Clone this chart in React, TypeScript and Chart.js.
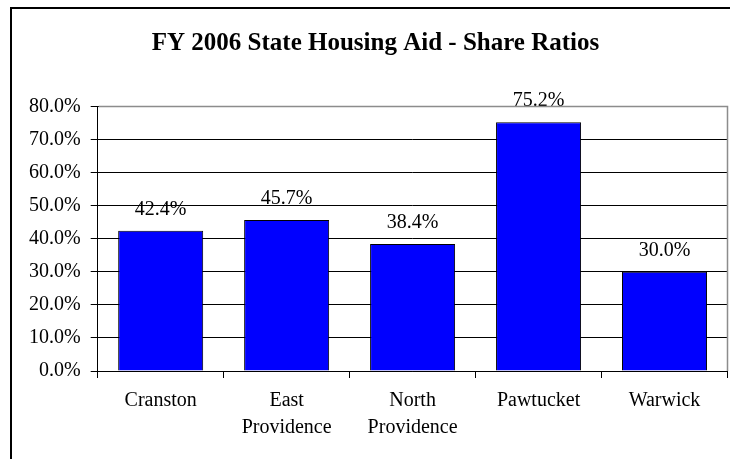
import React, { useEffect, useRef } from "react";
import { Chart, registerables } from "chart.js";

Chart.register(...registerables);

const categories: (string | string[])[] = [
  "Cranston",
  ["East", "Providence"],
  ["North", "Providence"],
  "Pawtucket",
  "Warwick",
];
const shareRatios: number[] = [42.4, 45.7, 38.4, 75.2, 30.0];
const yTicks: number[] = [0, 10, 20, 30, 40, 50, 60, 70, 80];
const titleText = "FY 2006 State Housing Aid - Share Ratios";

const FONT = '"Liberation Serif", "Times New Roman", Times, serif';

const decorPlugin = {
  id: "decor",
  beforeDraw(chart: any) {
    const ctx = chart.ctx;
    ctx.save();
    ctx.fillStyle = "#ffffff";
    ctx.fillRect(0, 0, chart.width, chart.height);
    ctx.strokeStyle = "#000000";
    ctx.lineWidth = 2;
    ctx.strokeRect(11, 8, 800, 800);
    ctx.fillStyle = "#000000";
    ctx.font = `bold 25px ${FONT}`;
    ctx.textAlign = "center";
    ctx.textBaseline = "alphabetic";
    ctx.fillText(titleText, 375.5, 50);
    ctx.restore();
  },
  afterDraw(chart: any) {
    const ctx = chart.ctx;
    const a = chart.chartArea;
    ctx.save();
    ctx.strokeStyle = "#8c8c8c";
    ctx.lineWidth = 1.5;
    ctx.beginPath();
    ctx.moveTo(a.left + 1, a.top);
    ctx.lineTo(a.right, a.top);
    ctx.lineTo(a.right, a.bottom);
    ctx.stroke();
    ctx.restore();
  },
  afterDatasetsDraw(chart: any) {
    const ctx = chart.ctx;
    const meta = chart.getDatasetMeta(0);
    ctx.save();
    ctx.fillStyle = "#000000";
    ctx.font = `20px ${FONT}`;
    ctx.textAlign = "center";
    ctx.textBaseline = "alphabetic";
    meta.data.forEach((bar: any, i: number) => {
      ctx.fillText(shareRatios[i].toFixed(1) + "%", bar.x, bar.y - 16);
    });
    ctx.restore();
  },
};

export default function App() {
  const canvasRef = useRef<HTMLCanvasElement | null>(null);

  useEffect(() => {
    if (!canvasRef.current) return;
    const chart = new Chart(canvasRef.current, {
      type: "bar",
      data: {
        labels: categories as any,
        datasets: [
          {
            data: shareRatios,
            backgroundColor: "#0000ff",
            borderColor: "#000000",
            borderWidth: 1,
            barPercentage: 0.675,
            categoryPercentage: 1,
          },
        ],
      },
      options: {
        responsive: false,
        animation: false,
        layout: { padding: { top: 106.5, left: 0, right: 2.5, bottom: 0 } },
        plugins: {
          legend: { display: false },
          title: { display: false },
          tooltip: { enabled: false },
        },
        scales: {
          x: {
            offset: true,
            grid: {
              display: true,
              offset: true,
              drawOnChartArea: false,
              drawTicks: true,
              tickLength: 7,
              color: "#000000",
            },
            border: { display: true, color: "#000000", width: 1 },
            ticks: {
              color: "#000000",
              font: { family: FONT, size: 20, lineHeight: 1.35 },
              padding: 9,
              maxRotation: 0,
              autoSkip: false,
            },
            afterFit: (scale: any) => {
              scale.height = 88;
            },
          },
          y: {
            min: 0,
            max: 80,
            afterBuildTicks: (scale: any) => {
              scale.ticks = yTicks.map((v) => ({ value: v }));
            },
            grid: {
              color: "#000000",
              lineWidth: 1,
              drawTicks: true,
              tickLength: 7,
            },
            border: { display: true, color: "#000000", width: 1 },
            ticks: {
              color: "#000000",
              font: { family: FONT, size: 20 },
              padding: 10,
              callback: (v: any) => Number(v).toFixed(1) + "%",
            },
            afterFit: (scale: any) => {
              scale.width = 97.7;
            },
          },
        },
      },
      plugins: [decorPlugin],
    });
    return () => chart.destroy();
  }, []);

  return (
    <div style={{ position: "absolute", left: 0, top: 0, width: 730, height: 459 }}>
      <canvas ref={canvasRef} width={730} height={459} style={{ width: 730, height: 459 }} />
    </div>
  );
}
